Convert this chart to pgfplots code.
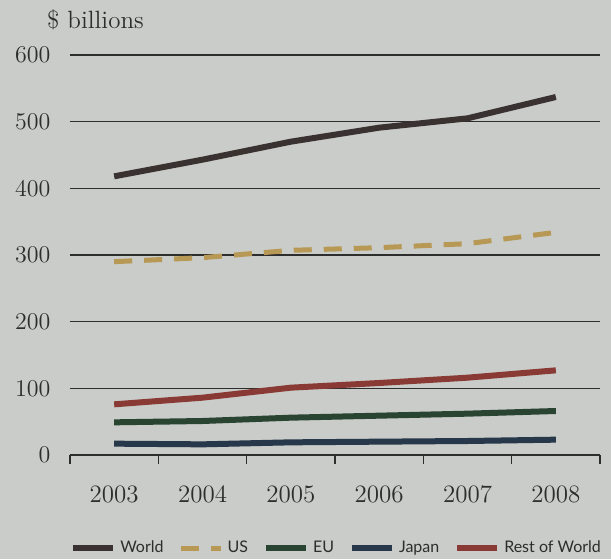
\documentclass[border=0pt]{standalone}
\usepackage{fontspec}
\newfontfamily\legfont{Lato}
\usepackage{pgfplots}
\pgfplotsset{compat=1.18}
\usetikzlibrary{backgrounds,calc}

\definecolor{paper}{RGB}{201,204,200}
\definecolor{ink}{RGB}{45,45,45}
\definecolor{cWorld}{RGB}{58,50,48}
\definecolor{cUS}{RGB}{184,152,85}
\definecolor{cEU}{RGB}{42,68,50}
\definecolor{cJapan}{RGB}{38,56,74}
\definecolor{cRoW}{RGB}{138,58,52}

\begin{document}
\begin{tikzpicture}
\begin{axis}[
    name=ax,
    scale only axis,
    width=265pt, height=200pt,
    xmin=-0.5, xmax=5.5,
    ymin=0, ymax=600,
    axis x line*=bottom,
    axis y line*=left,
    y axis line style={draw=none},
    x axis line style={ink, line width=0.8pt},
    ytick={0,100,...,600},
    ytick style={draw=none},
    ymajorgrids,
    grid style={ink, line width=0.6pt},
    xtick={0,...,5},
    xticklabels={2003,2004,2005,2006,2007,2008},
    major x tick style={draw=none},
    minor xtick={-0.5,0.5,...,5.5},
    minor x tick style={ink, line width=0.8pt},
    minor tick length=4.5pt,
    tick align=outside,
    tick label style={font=\fontsize{12.5}{15}\selectfont, text=ink},
    yticklabel style={xshift=-2pt},
    xticklabel style={yshift=-7.5pt},
    every axis plot/.append style={line width=3pt, line join=round},
    legend style={at={(0.503,-0.2325)}, anchor=center, draw=none, fill=none,
        font=\legfont\fontsize{8}{10}\selectfont, text=ink,
        inner sep=0pt,
        nodes={inner sep=1pt},
        /tikz/every odd column/.append style={column sep=1pt},
        /tikz/every even column/.append style={column sep=6.5pt}},
    legend columns=5,
    legend image code/.code={\draw[#1] (0pt,0pt) -- (20pt,0pt);},
]
\addplot[cWorld] coordinates {(0,418) (1,443) (2,470) (3,491) (4,505) (5,537)};
\addlegendentry{World}
\addplot[cUS, line width=2.5pt, dash pattern=on 9pt off 6pt] coordinates {(0,290) (1,296) (2,307) (3,311) (4,317) (5,334)};
\addlegendentry{US}
\addplot[cEU] coordinates {(0,49) (1,51) (2,56) (3,59) (4,62) (5,66)};
\addlegendentry{EU}
\addplot[cJapan] coordinates {(0,17) (1,16) (2,19) (3,20) (4,21) (5,23)};
\addlegendentry{Japan}
\addplot[cRoW] coordinates {(0,76) (1,86) (2,101) (3,108) (4,116) (5,127)};
\addlegendentry{Rest of World}
\end{axis}
\node[anchor=west, font=\fontsize{12.5}{15}\selectfont, text=ink]
    at ($(ax.south west)+(-15pt,217.5pt)$) {\$ billions};
\pgfresetboundingbox
\path[use as bounding box] ($(ax.south west)+(-35pt,-52pt)$) rectangle ++(305.5pt,279.5pt);
\begin{scope}[on background layer]
\fill[paper] ($(ax.south west)+(-35pt,-52pt)$) rectangle ++(305.5pt,279.5pt);
\end{scope}
\end{tikzpicture}
\end{document}
